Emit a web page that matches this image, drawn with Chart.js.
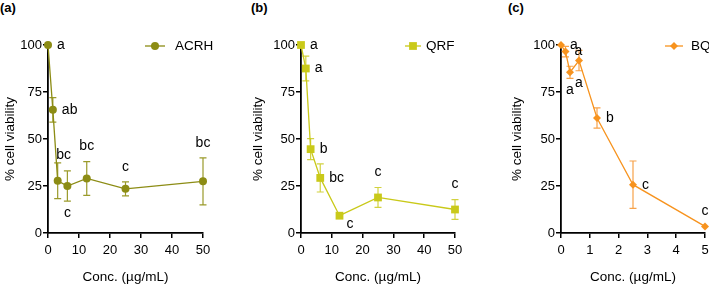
<!DOCTYPE html>
<html>
<head>
<meta charset="utf-8">
<script src="https://cdn.jsdelivr.net/npm/chart.js@4"></script>
<style>
  body { margin: 0; background: #fff; width: 709px; height: 286px; position: relative; overflow: hidden; font-family: 'Liberation Sans', Arial, sans-serif; }
  canvas { position: absolute; top: 0; }
  .tag { position: absolute; top: 0; font-weight: bold; font-size: 13px; }
</style>
</head>
<body>
<div class="tag" style="left:0px">(a)</div>
<div class="tag" style="left:251px">(b)</div>
<div class="tag" style="left:508px">(c)</div>
<canvas id="chartA" width="236" height="286" style="left:0px"></canvas>
<canvas id="chartB" width="236" height="286" style="left:236px"></canvas>
<canvas id="chartC" width="237" height="286" style="left:472px"></canvas>
<script>
// concentrations (ug/mL)
const concAB = [0, 1.5625, 3.125, 6.25, 12.5, 25, 50];
const concC = [0, 0.15625, 0.3125, 0.625, 1.25, 2.5, 5];

// % cell viability, mean and error
const acrhMean = [100, 65.5, 27.8, 25, 29, 23.5, 27.5];
const acrhErr = [0, 6.5, 9.5, 8, 9, 3.7, 12.5];
const acrhSig = ['a', 'ab', 'bc', 'c', 'bc', 'c', 'bc'];

const qrfMean = [100, 87.5, 44.6, 29.3, 9.2, 18.9, 12.5];
const qrfErr = [0, 6.6, 5.6, 7.5, 0, 5.3, 5.3];
const qrfSig = ['a', 'a', 'b', 'bc', 'c', 'c', 'c'];

const bqMean = [100, 96.5, 85.5, 91.7, 61.2, 25.7, 3.5];
const bqErr = [0, 2.8, 3.2, 5.4, 5.4, 12.6, 0];
const bqSig = ['a', 'a', 'a', 'a', 'b', 'c', 'c'];

const yTicks = [0, 25, 50, 75, 100];

// where each letter sits relative to its point
const acrhSide = ['right', 'right', 'aboveRight', 'below', 'above', 'above', 'above'];
const qrfSide = ['right', 'right', 'right', 'right', 'belowRight', 'above', 'above'];
const bqSide = ['right', 'right', 'below', 'below', 'right', 'right', 'above'];

const FONT = "'Liberation Sans', Arial, sans-serif";
Chart.defaults.font.family = FONT;
Chart.defaults.color = '#000';
Chart.defaults.animation = false;

function makeChart(id, opts) {
  const points = opts.x.map((x, i) => ({ x: x, y: opts.mean[i] }));

  const extras = {
    id: 'extras',
    beforeDatasetsDraw(chart) {
      const ctx = chart.ctx;
      const xs = chart.scales.x, ys = chart.scales.y;
      ctx.save();
      ctx.strokeStyle = opts.errColor;
      ctx.lineWidth = 1.2;
      opts.x.forEach((x, i) => {
        const e = opts.err[i];
        if (!e) return;
        const px = xs.getPixelForValue(x);
        const top = ys.getPixelForValue(opts.mean[i] + e);
        const bot = ys.getPixelForValue(opts.mean[i] - e);
        ctx.beginPath();
        ctx.moveTo(px, top); ctx.lineTo(px, bot);
        ctx.moveTo(px - 3.5, top); ctx.lineTo(px + 3.5, top);
        ctx.moveTo(px - 3.5, bot); ctx.lineTo(px + 3.5, bot);
        ctx.stroke();
      });
      ctx.restore();
    },
    afterDatasetsDraw(chart) {
      const ctx = chart.ctx;
      const xs = chart.scales.x, ys = chart.scales.y;
      ctx.save();
      ctx.fillStyle = '#000';
      ctx.font = '14px ' + FONT;
      ctx.textBaseline = 'middle';
      opts.x.forEach((x, i) => {
        const px = xs.getPixelForValue(x);
        const py = ys.getPixelForValue(opts.mean[i]);
        const top = ys.getPixelForValue(opts.mean[i] + opts.err[i]);
        const bot = ys.getPixelForValue(opts.mean[i] - opts.err[i]);
        const side = opts.side[i];
        let tx = px, ty = py;
        ctx.textAlign = 'center';
        if (side === 'right') { ctx.textAlign = 'left'; tx = px + 9; ty = py; }
        else if (side === 'above') { ty = top - 15; }
        else if (side === 'below') { ty = bot + 12; }
        else if (side === 'aboveRight') { tx = px + 6; ty = top - 8; }
        else if (side === 'belowRight') { ctx.textAlign = 'left'; tx = px + 7; ty = py + 8; }
        ctx.fillText(opts.sig[i], tx, ty);
      });

      // legend inside the plot, top right
      const lx = opts.legendX, ly = chart.chartArea.top + 1;
      ctx.strokeStyle = opts.color;
      ctx.lineWidth = 1.3;
      ctx.beginPath();
      ctx.moveTo(lx - opts.legendHalf, ly); ctx.lineTo(lx + opts.legendHalf, ly);
      ctx.stroke();
      ctx.fillStyle = opts.color;
      Chart.helpers.drawPoint(ctx, { pointStyle: opts.pointStyle, radius: opts.radius, borderWidth: 0 }, lx, ly);
      ctx.fillStyle = '#000';
      ctx.textAlign = 'left';
      ctx.font = '13.5px ' + FONT;
      ctx.fillText(opts.label, lx + opts.legendGap, ly);
      ctx.restore();
    }
  };

  return new Chart(document.getElementById(id), {
    type: 'line',
    data: {
      datasets: [{
        label: opts.label,
        data: points,
        borderColor: opts.color,
        backgroundColor: opts.color,
        borderWidth: 1.3,
        pointStyle: opts.pointStyle,
        pointRadius: opts.radius,
        pointBorderWidth: 0,
        pointBackgroundColor: opts.color,
        tension: 0,
        clip: false
      }]
    },
    options: {
      responsive: false,
      layout: { padding: { left: opts.padLeft, right: opts.padRight, top: 45, bottom: 0 } },
      plugins: { legend: { display: false }, tooltip: { enabled: false } },
      scales: {
        x: {
          type: 'linear',
          min: 0,
          max: opts.xMax,
          afterFit(scale) { scale.height = 53; scale.paddingLeft = 0; scale.paddingRight = 0; },
          ticks: { stepSize: opts.xStep, font: { size: 13 }, padding: 5, maxRotation: 0 },
          grid: { drawOnChartArea: false, drawTicks: true, tickLength: 5, color: '#000', lineWidth: 1.5 },
          border: { display: true, color: '#000', width: 1.8 },
          title: { display: true, text: 'Conc. (\u00b5g/mL)', font: { size: 13.5 }, padding: { top: 0, bottom: 1 } }
        },
        y: {
          min: 0,
          max: 100,
          afterFit(scale) { scale.width = opts.yWidth; scale.paddingTop = 0; scale.paddingBottom = 0; },
          afterBuildTicks(scale) { scale.ticks = yTicks.map(v => ({ value: v })); },
          ticks: { font: { size: 13 }, padding: 1 },
          grid: { drawOnChartArea: false, drawTicks: true, tickLength: 5, color: '#000', lineWidth: 1.5 },
          border: { display: true, color: '#000', width: 1.8 },
          title: { display: true, text: '% cell viability', font: { size: 13.5 }, padding: { top: 2, bottom: 0 } }
        }
      }
    },
    plugins: [extras]
  });
}

makeChart('chartA', {
  x: concAB, mean: acrhMean, err: acrhErr, sig: acrhSig, side: acrhSide,
  label: 'ACRH', color: '#8c8c14', errColor: '#9a9a2a', pointStyle: 'circle', radius: 4,
  xMax: 50, xStep: 10, padLeft: 0, padRight: 33, yWidth: 48, legendX: 155, legendHalf: 10, legendGap: 20
});

makeChart('chartB', {
  x: concAB, mean: qrfMean, err: qrfErr, sig: qrfSig, side: qrfSide,
  label: 'QRF', color: '#c9c919', errColor: '#d2d240', pointStyle: 'rect', radius: 5.5,
  xMax: 50, xStep: 10, padLeft: 12, padRight: 17, yWidth: 53, legendX: 177, legendHalf: 8, legendGap: 13
});

makeChart('chartC', {
  x: concC, mean: bqMean, err: bqErr, sig: bqSig, side: bqSide,
  label: 'BQ', color: '#f7931e', errColor: '#f7a24a', pointStyle: 'rectRot', radius: 4,
  xMax: 5, xStep: 1, padLeft: 35, padRight: 3, yWidth: 54, legendX: 202, legendHalf: 9, legendGap: 17
});
</script>
</body>
</html>
